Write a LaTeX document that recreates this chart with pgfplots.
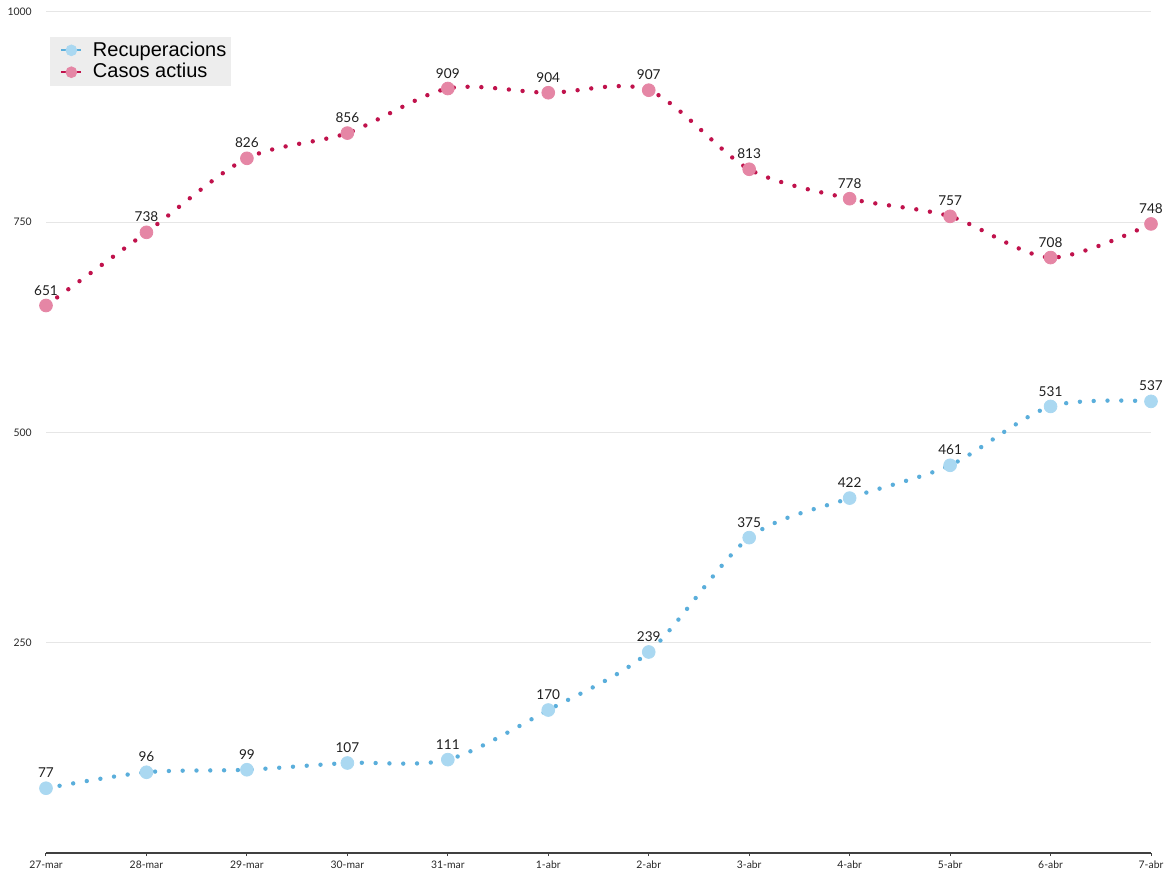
\documentclass[border=0pt]{standalone}
\usepackage{pgfplots}
\pgfplotsset{compat=1.18}
\usepackage{fontspec}
\setmainfont{Lato}
\newfontfamily\legfont{Liberation Sans}
\definecolor{pinkm}{HTML}{E586A5}
\definecolor{pinkl}{HTML}{C0124C}
\definecolor{bluem}{HTML}{AAD8F1}
\definecolor{bluel}{HTML}{5AAEDB}
\definecolor{gridc}{HTML}{E6E6E6}
\begin{document}
\begin{tikzpicture}
\path[use as bounding box] (-23pt,-9pt) rectangle (559.5pt,426.5pt);
\begin{axis}[at={(0,0)}, anchor=south west,
  width=552.5pt, height=420.5pt, scale only axis,
  clip=false,
  xmin=0, xmax=11, ymin=0, ymax=1000,
  xtick={0,...,11},
  xticklabels={27-mar,28-mar,29-mar,30-mar,31-mar,1-abr,2-abr,3-abr,4-abr,5-abr,6-abr,7-abr},
  ytick={250,500,750,1000},
  axis x line=bottom, axis y line=left,
  axis line style={-},
  x axis line style={color=black!75, line width=0.6pt},
  y axis line style={draw=none},
  ymajorgrids, major grid style={gridc, line width=0.5pt},
  tick align=outside,
  x tick style={color=black!75, line width=0.5pt},
  major tick length=1.6pt,
  y tick style={draw=none},
  /pgf/number format/assume math mode=true,
  /pgf/number format/1000 sep={},
  tick label style={font=\fontsize{5.2}{6}\selectfont, text=black!85},
  xticklabel style={yshift=1pt},
  yticklabel style={xshift=-2pt},
  legend style={at={(rel axis cs:0.0036,0.971)}, anchor=north west, draw=none, fill=black!7,
    font=\legfont\fontsize{10}{10}\selectfont, inner sep=0.8pt, row sep=-1pt,
    nodes={inner sep=1.6pt}},
  legend cell align=left,
  nodes near coords style={font=\fontsize{6.8}{8}\selectfont, text=black!88, anchor=south, yshift=1.6pt},
]
\addlegendimage{legend image code/.code={\path (-4.5pt,0pt) (14pt,0pt); \draw[bluel,line width=1.1pt] (0pt,0pt)--(10pt,0pt); \fill[bluem] (5pt,0pt) circle (2.7pt);}}
\addlegendentry{Recuperacions}
\addlegendimage{legend image code/.code={\path (-4.5pt,0pt) (14pt,0pt); \draw[pinkl,line width=1.1pt] (0pt,0pt)--(10pt,0pt); \fill[pinkm] (5pt,0pt) circle (2.7pt);}}
\addlegendentry{Casos actius}

% Recuperacions
\addplot[forget plot, only marks, mark=*, mark size=3.2pt, draw=bluem, fill=bluem, mark options={draw=bluem, fill=bluem}, nodes near coords]
 coordinates {(0,77) (1,96) (2,99) (3,107) (4,111) (5,170) (6,239) (7,375) (8,422) (9,461) (10,531) (11,537)};
\addplot[forget plot, smooth, bluel, line width=2.2pt, line cap=round, dash pattern=on 0pt off 6.9pt]
 coordinates {(0,77) (1,96) (2,99) (3,107) (4,111) (5,170) (6,239) (7,375) (8,422) (9,461) (10,531) (11,537)};

% Casos actius
\addplot[forget plot, only marks, mark=*, mark size=3.2pt, draw=pinkm, fill=pinkm, mark options={draw=pinkm, fill=pinkm}, nodes near coords]
 coordinates {(0,651) (1,738) (2,826) (3,856) (4,909) (5,904) (6,907) (7,813) (8,778) (9,757) (10,708) (11,748)};
\addplot[forget plot, smooth, pinkl, line width=2.2pt, line cap=round, dash pattern=on 0pt off 6.9pt]
 coordinates {(0,651) (1,738) (2,826) (3,856) (4,909) (5,904) (6,907) (7,813) (8,778) (9,757) (10,708) (11,748)};
\end{axis}
\end{tikzpicture}
\end{document}
